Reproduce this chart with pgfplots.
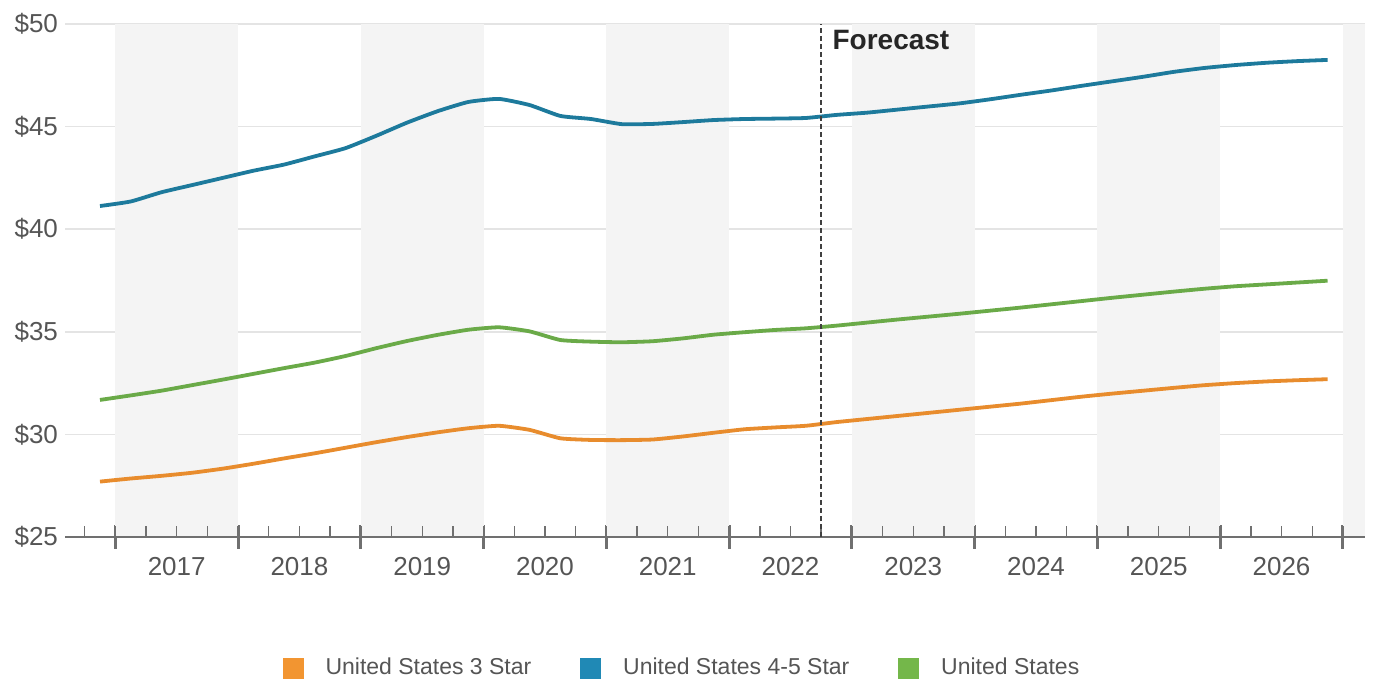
\documentclass[border=0pt]{standalone}
\usepackage{pgfplots}
\pgfplotsset{compat=1.18}
\usepackage{pgfplotstable}
\usepackage{fontspec}
\setmainfont{Liberation Sans}
\definecolor{cOrange}{HTML}{E88C2D}
\definecolor{cBlue}{HTML}{1D7A9C}
\definecolor{cGreen}{HTML}{6AAA48}
\definecolor{lOrange}{HTML}{F29531}
\definecolor{lBlue}{HTML}{2089B5}
\definecolor{lGreen}{HTML}{74B74A}
\definecolor{band}{HTML}{F4F4F4}
\definecolor{gridc}{HTML}{E4E4E4}
\definecolor{axisc}{HTML}{707070}
\definecolor{txtc}{HTML}{555555}

\pgfplotstableread{
x y
2016.875 41.13
2017.125 41.35
2017.375 41.80
2017.625 42.15
2017.875 42.50
2018.125 42.85
2018.375 43.15
2018.625 43.55
2018.875 43.95
2019.125 44.55
2019.375 45.19
2019.625 45.75
2019.875 46.20
2020.125 46.35
2020.375 46.05
2020.625 45.52
2020.875 45.37
2021.125 45.12
2021.375 45.13
2021.625 45.22
2021.875 45.32
2022.125 45.37
2022.375 45.39
2022.625 45.42
2022.875 45.57
2023.125 45.68
2023.375 45.83
2023.625 45.98
2023.875 46.13
2024.125 46.33
2024.375 46.55
2024.625 46.76
2024.875 46.99
2025.125 47.21
2025.375 47.43
2025.625 47.67
2025.875 47.86
2026.125 48.00
2026.375 48.11
2026.625 48.19
2026.875 48.25
}\tblue

\pgfplotstableread{
x y
2016.875 31.68
2017.125 31.90
2017.375 32.13
2017.625 32.40
2017.875 32.67
2018.125 32.95
2018.375 33.23
2018.625 33.50
2018.875 33.82
2019.125 34.20
2019.375 34.55
2019.625 34.85
2019.875 35.10
2020.125 35.22
2020.375 35.02
2020.625 34.60
2020.875 34.52
2021.125 34.49
2021.375 34.54
2021.625 34.68
2021.875 34.86
2022.125 34.98
2022.375 35.09
2022.625 35.17
2022.875 35.30
2023.125 35.45
2023.375 35.60
2023.625 35.74
2023.875 35.88
2024.125 36.03
2024.375 36.18
2024.625 36.34
2024.875 36.50
2025.125 36.66
2025.375 36.81
2025.625 36.96
2025.875 37.10
2026.125 37.22
2026.375 37.31
2026.625 37.40
2026.875 37.49
}\tgreen

\pgfplotstableread{
x y
2016.875 27.70
2017.125 27.85
2017.375 27.98
2017.625 28.13
2017.875 28.33
2018.125 28.57
2018.375 28.83
2018.625 29.08
2018.875 29.35
2019.125 29.62
2019.375 29.87
2019.625 30.10
2019.875 30.30
2020.125 30.42
2020.375 30.22
2020.625 29.81
2020.875 29.73
2021.125 29.72
2021.375 29.75
2021.625 29.90
2021.875 30.08
2022.125 30.25
2022.375 30.34
2022.625 30.42
2022.875 30.60
2023.125 30.75
2023.375 30.90
2023.625 31.05
2023.875 31.20
2024.125 31.35
2024.375 31.50
2024.625 31.67
2024.875 31.84
2025.125 31.99
2025.375 32.13
2025.625 32.27
2025.875 32.40
2026.125 32.50
2026.375 32.58
2026.625 32.64
2026.875 32.69
}\torange

\begin{document}
\begin{tikzpicture}
\begin{axis}[
  set layers,
  scale only axis,
  width=650pt, height=256.5pt,
  at={(0,0)}, anchor=south west,
  xmin=2016.59, xmax=2027.18,
  ymin=25, ymax=50,
  axis line style={draw=none},
  ytick={25,30,35,40,45,50},
  yticklabel={\textdollar\pgfmathprintnumber{\tick}},
  yticklabel style={font=\fontsize{13}{15}\selectfont, text=txtc},
  ytick style={draw=none},
  ymajorgrids,
  y grid style={gridc, line width=0.75pt},
  xtick={2017,2018,...,2027},
  xticklabels={},
  xtick pos=bottom,
  xtick align=center,
  major tick length=11.5pt,
  major x tick style={axisc, line width=1.5pt},
  extra x ticks={2017.5,2018.5,...,2026.5},
  extra x tick labels={2017,2018,2019,2020,2021,2022,2023,2024,2025,2026},
  extra x tick style={major tick length=0pt, major x tick style={draw=none}},
  xticklabel style={font=\fontsize{13}{15}\selectfont, text=txtc, yshift=-6.5pt},
  /pgf/number format/assume math mode=true,
  legend columns=3,
  legend style={draw=none, fill=none, at={(0.4754,-0.2554)}, anchor=center,
    font=\fontsize{11.5}{13}\selectfont, text=txtc,
    /tikz/every even column/.append style={column sep=22.5pt},
    /tikz/every odd column/.append style={column sep=9pt}},
]
% alternating year bands
\fill[band, on layer=axis background] (axis cs:2017,25) rectangle (axis cs:2018,50);
\fill[band, on layer=axis background] (axis cs:2019,25) rectangle (axis cs:2020,50);
\fill[band, on layer=axis background] (axis cs:2021,25) rectangle (axis cs:2022,50);
\fill[band, on layer=axis background] (axis cs:2023,25) rectangle (axis cs:2024,50);
\fill[band, on layer=axis background] (axis cs:2025,25) rectangle (axis cs:2026,50);
\fill[band, on layer=axis background] (axis cs:2027,25) rectangle (axis cs:2027.18,50);

\addplot[cOrange, line width=1.9pt, smooth, tension=0.3, forget plot] table {\torange};
\addplot[cBlue, line width=1.9pt, smooth, tension=0.3, forget plot] table {\tblue};
\addplot[cGreen, line width=1.9pt, smooth, tension=0.3, forget plot] table {\tgreen};

\draw[axisc, line width=1pt] (axis cs:2016.59,25) -- (axis cs:2027.18,25);
% quarter (minor) ticks, drawn upward from the axis line
\pgfplotsinvokeforeach{2016.75,2017,...,2027}{
  \draw[axisc, line width=0.7pt] (axis cs:#1,25) -- ++(0pt,5.5pt);
}
\draw[black!75, line width=1pt, dash pattern=on 2.5pt off 1.5pt] (axis cs:2022.75,25) -- (axis cs:2022.75,50.1);
\node[anchor=base west, inner sep=0pt, font=\fontsize{14}{16}\selectfont\bfseries, text=black!85]
  at ([xshift=5.5pt, yshift=-12.5pt]axis cs:2022.75,50) {Forecast};

\addlegendimage{legend image code/.code={\fill[lOrange] (0pt,-5pt) rectangle (10pt,5pt);}}
\addlegendentry{United States 3 Star}
\addlegendimage{legend image code/.code={\fill[lBlue] (0pt,-5pt) rectangle (10pt,5pt);}}
\addlegendentry{United States 4-5 Star}
\addlegendimage{legend image code/.code={\fill[lGreen] (0pt,-5pt) rectangle (10pt,5pt);}}
\addlegendentry{United States}
\end{axis}
\path[use as bounding box] (-32.5pt,-74.5pt) rectangle (656pt,268.5pt);
\end{tikzpicture}
\end{document}
